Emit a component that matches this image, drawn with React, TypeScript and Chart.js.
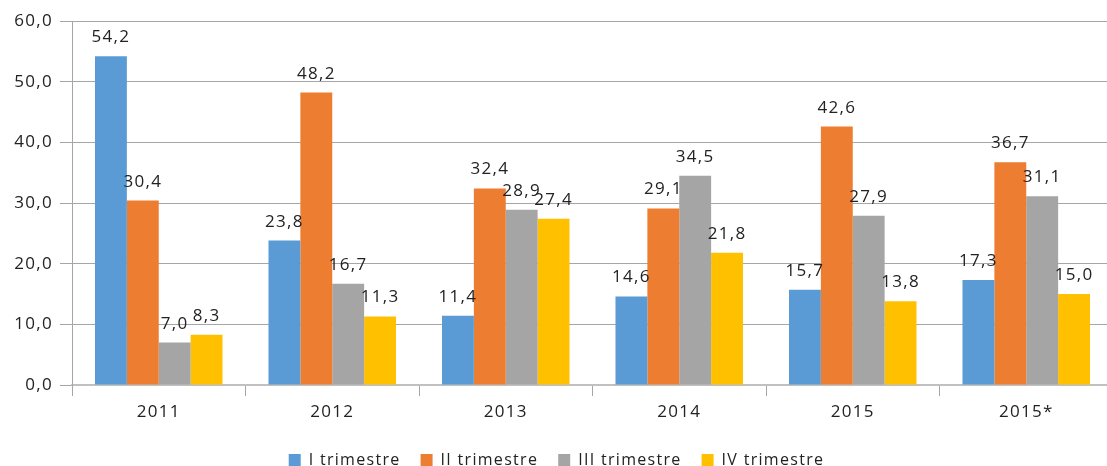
import React, { useEffect, useRef } from "react";
import { Chart, registerables } from "chart.js";

Chart.register(...registerables);

const categories = ["2011", "2012", "2013", "2014", "2015", "2015*"];
const seriesNames = ["I trimestre", "II trimestre", "III trimestre", "IV trimestre"];
const q1 = [54.2, 23.8, 11.4, 14.6, 15.7, 17.3];
const q2 = [30.4, 48.2, 32.4, 29.1, 42.6, 36.7];
const q3 = [7.0, 16.7, 28.9, 34.5, 27.9, 31.1];
const q4 = [8.3, 11.3, 27.4, 21.8, 13.8, 15.0];
const yTicks = [0, 10, 20, 30, 40, 50, 60];
const colors = ["#5b9bd5", "#ed7d31", "#a5a5a5", "#ffc000"];

const FONT = "'Open Sans', 'Noto Sans', sans-serif";
const TEXT = "#222222";
const SPACING = "1.3px";
const fmt = (v: number) => v.toFixed(1).replace(".", ",");

const spacingPlugin = {
  id: "spacing",
  beforeUpdate(chart: any) {
    chart.ctx.letterSpacing = SPACING;
  },
  beforeLayout(chart: any) {
    chart.ctx.letterSpacing = SPACING;
  },
  beforeDraw(chart: any) {
    chart.ctx.letterSpacing = SPACING;
  },
};

const labelPlugin = {
  id: "barLabels",
  afterDatasetsDraw(chart: any) {
    const ctx = chart.ctx;
    ctx.save();
    ctx.letterSpacing = SPACING;
    ctx.font = `17px ${FONT}`;
    ctx.fillStyle = TEXT;
    ctx.textAlign = "center";
    ctx.textBaseline = "alphabetic";
    chart.data.datasets.forEach((ds: any, i: number) => {
      const meta = chart.getDatasetMeta(i);
      meta.data.forEach((el: any, j: number) => {
        ctx.fillText(fmt(ds.data[j]), el.x, el.y - 14);
      });
    });
    ctx.restore();
  },
};

export default function App() {
  const ref = useRef<HTMLCanvasElement | null>(null);
  useEffect(() => {
    if (!ref.current) return;
    const data = [q1, q2, q3, q4];
    const chart = new Chart(ref.current, {
      type: "bar",
      data: {
        labels: categories,
        datasets: seriesNames.map((n, i) => ({
          label: n,
          data: data[i],
          backgroundColor: colors[i],
          borderWidth: 0,
          barPercentage: 1,
          categoryPercentage: 0.735,
        })),
      },
      options: {
        animation: false,
        responsive: false,
        maintainAspectRatio: false,
        layout: { padding: { left: 0, right: 0, top: 21, bottom: 0 } },
        plugins: {
          tooltip: { enabled: false },
          legend: {
            position: "bottom",
            labels: {
              font: { family: FONT, size: 16 },
              color: TEXT,
              boxWidth: 12,
              boxHeight: 12,
              padding: 20,
            },
          },
        },
        scales: {
          x: {
            afterFit: (s: any) => {
              s.height = 47;
            },
            grid: {
              offset: true,
              drawOnChartArea: false,
              drawTicks: true,
              tickLength: 11,
              color: "#a6a6a6",
            },
            border: { color: "#c0c0c0", width: 2 },
            ticks: { font: { family: FONT, size: 17 }, color: TEXT, padding: 6 },
          },
          y: {
            min: 0,
            max: 60,
            afterFit: (s: any) => {
              s.width = 72;
            },
            afterBuildTicks: (s: any) => {
              s.ticks = yTicks.map((v) => ({ value: v }));
            },
            grid: { color: "#a6a6a6", tickLength: 12, lineWidth: 1 },
            border: { color: "#a6a6a6", width: 1 },
            ticks: {
              font: { family: FONT, size: 17 },
              color: TEXT,
              padding: 7,
              callback: (v: any) => fmt(Number(v)),
            },
          },
        },
      },
      plugins: [spacingPlugin, labelPlugin],
    });
    return () => chart.destroy();
  }, []);
  return (
    <div style={{ position: "absolute", left: 0, top: 0, width: 1107, height: 466, overflow: "hidden", background: "#fff" }}>
      <canvas ref={ref} width={1113} height={478} style={{ display: "block" }} />
    </div>
  );
}
